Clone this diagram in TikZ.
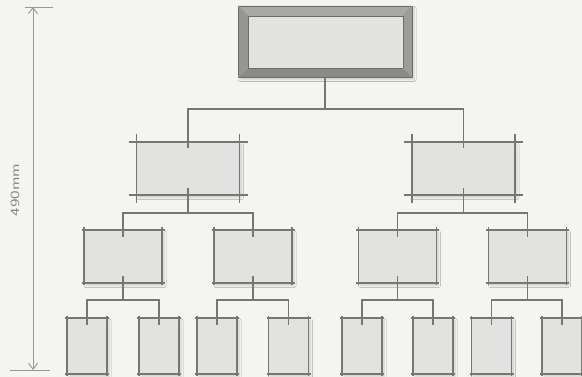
\documentclass[tikz,border=0pt]{standalone}
\usetikzlibrary{calc,arrows.meta,shadows.blur}
\definecolor{bg}{HTML}{F4F4F0}
\definecolor{boxfill}{HTML}{E2E2E0}
\definecolor{edgec}{HTML}{767676}
\definecolor{dimc}{HTML}{969696}
\definecolor{txtc}{HTML}{858585}
\definecolor{bevA}{HTML}{A8A8A6}
\definecolor{bevB}{HTML}{959593}
\definecolor{bevC}{HTML}{8A8A88}
\definecolor{bevD}{HTML}{9C9C9A}
\tikzset{
  box/.style={rectangle, fill=boxfill, draw=none, inner sep=0pt, outer sep=0pt,
    blur shadow={shadow xshift=2pt, shadow yshift=-2.5pt, shadow blur radius=2pt, shadow blur steps=8, shadow opacity=16}},
  lvlone/.style={box, minimum width=103pt, minimum height=53pt},
  lvltwo/.style={box, minimum width=78pt, minimum height=53pt},
  leaf/.style={box, minimum width=40pt, minimum height=56pt},
  topbox/.style={box, fill=bevB, minimum width=174pt, minimum height=71pt},
  conn/.style={draw=edgec, line width=1.5pt},
  rim/.style={draw=edgec, line width=1.8pt},
  bevline/.style={draw=black!58, line width=0.8pt},
  dim/.style={draw=dimc, line width=0.9pt},
}
\begin{document}
\begin{tikzpicture}[x=1pt,y=-1pt]
\fill[bg] (0,0) rectangle (582,377);
\useasboundingbox (0,0) rectangle (582,377);

% top box with bevelled frame
\node[topbox] (T) at (325,41.5) {};
\coordinate (Tinw) at ($(T.north west)+(10,10)$);
\coordinate (Tine) at ($(T.north east)+(-9,10)$);
\coordinate (Tisw) at ($(T.south west)+(10,-9)$);
\coordinate (Tise) at ($(T.south east)+(-9,-9)$);
\fill[bevA] (T.north west) -- (T.north east) -- (Tine) -- (Tinw) -- cycle;
\fill[bevB] (T.north west) -- (Tinw) -- (Tisw) -- (T.south west) -- cycle;
\fill[bevC] (T.south west) -- (Tisw) -- (Tise) -- (T.south east) -- cycle;
\fill[bevD] (T.north east) -- (T.south east) -- (Tise) -- (Tine) -- cycle;
\fill[boxfill] (Tinw) rectangle (Tise);
\draw[bevline] (T.north west) rectangle (T.south east);
\draw[bevline] (Tinw) rectangle (Tise);
\draw[bevline, draw=black!40] (T.north west) -- (Tinw) (T.north east) -- (Tine)
  (T.south west) -- (Tisw) (T.south east) -- (Tise);

% level 1
\node[lvlone] (A) at (188,168.5) {};
\node[lvlone] (B) at (463.5,168.5) {};
% level 2
\node[lvltwo] (C1) at (123,256.5) {};
\node[lvltwo] (C2) at (253,256.5) {};
\node[lvltwo] (C3) at (397.5,256.5) {};
\node[lvltwo] (C4) at (527.5,256.5) {};
% leaves
\node[leaf] (D1) at (87,346) {};
\node[leaf] (D2) at (159,346) {};
\node[leaf] (D3) at (217,346) {};
\node[leaf] (D4) at (288.5,346) {};
\node[leaf] (D5) at (362,346) {};
\node[leaf] (D6) at (433,346) {};
\node[leaf] (D7) at (491.5,346) {};
\node[leaf] (D8) at (562,346) {};

% box rims with overshooting corners
\foreach \n/\e in {A/8,B/8,C1/2.5,C2/2.5,C3/2.5,C4/2.5,D1/2,D2/2,D3/2,D4/2,D5/2,D6/2,D7/2,D8/2}{
  \draw[rim] ($(\n.north west)+(-\e,0)$) -- ($(\n.north east)+(\e,0)$);
  \draw[rim] ($(\n.south west)+(-\e,0)$) -- ($(\n.south east)+(\e,0)$);
  \draw[rim] ($(\n.north west)+(0,-\e)$) -- ($(\n.south west)+(0,\e)$);
  \draw[rim] ($(\n.north east)+(0,-\e)$) -- ($(\n.south east)+(0,\e)$);
}

% connectors
\draw[conn] (T.south) -- ($(T.south)+(0,32)$) -| ($(A.north)+(0,6)$);
\draw[conn] ($(T.south)+(0,32)$) -| ($(B.north)+(0,6)$);
\foreach \p/\l/\r in {A/C1/C2, B/C3/C4}{
  \draw[conn] ($(\p.south)+(0,-7)$) -- ($(\p.south)+(0,18)$) -| ($(\l.north)+(0,7)$);
  \draw[conn] ($(\p.south)+(0,18)$) -| ($(\r.north)+(0,7)$);
}
\foreach \p/\l/\r in {C1/D1/D2, C2/D3/D4, C3/D5/D6, C4/D7/D8}{
  \draw[conn] ($(\p.south)+(0,-7)$) -- ($(\p.south)+(0,17)$) -| ($(\l.north)+(0,7)$);
  \draw[conn] ($(\p.south)+(0,17)$) -| ($(\r.north)+(0,7)$);
}

% dimension line
\coordinate (dimtop) at (33,7);
\coordinate (dimbot) at (33,370);
\draw[dim] (25,7) -- (53,7);
\draw[dim] (10,370) -- (50,370);
\draw[dim, {Straight Barb[length=6pt,width=9pt]}-{Straight Barb[length=6pt,width=9pt]}] (dimtop) -- (dimbot);
\node[text=txtc, rotate=90, font=\sffamily\fontsize{12.5}{13}\selectfont, inner sep=0pt] (dimlabel) at (15,190) {\scalebox{1.4}[1]{490mm}};
\end{tikzpicture}
\end{document}
